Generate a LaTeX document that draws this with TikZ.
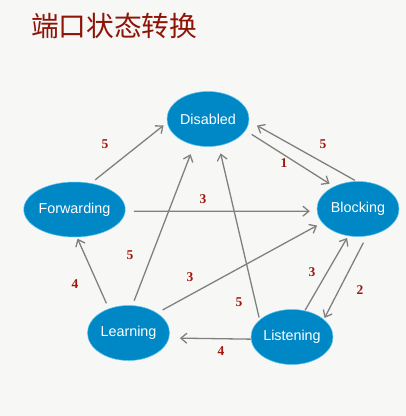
\documentclass[tikz,border=0pt]{standalone}
\usepackage{fontspec}
\setmainfont{Liberation Sans}
\newfontfamily\cjkfont{Noto Sans CJK SC}
\newfontfamily\numfont{Liberation Serif}
\usetikzlibrary{shapes.geometric,arrows.meta}
\definecolor{bgc}{HTML}{F7F7F5}
\definecolor{stateblue}{HTML}{0088C6}
\definecolor{stateedge}{HTML}{5CC4EC}
\definecolor{titlered}{HTML}{8E1408}
\definecolor{numred}{HTML}{A0160A}
\definecolor{arrowgray}{HTML}{808080}
\tikzset{
  state/.style={ellipse, fill=stateblue, draw=stateedge, line width=0.5bp,
    minimum width=82bp, minimum height=55bp, inner sep=0pt,
    text=white, font=\fontsize{14.4}{16}\selectfont},
  conn/.style={draw=arrowgray, line width=1.3bp,
    -{Straight Barb[length=6bp,width=10bp,line width=1.3bp]}},
  num/.style={text=numred, font=\numfont\fontsize{13.5}{15}\selectfont\bfseries, inner sep=0pt}
}
\begin{document}
\begin{tikzpicture}[x=1bp,y=-1bp]
\fill[bgc] (0,0) rectangle (406,416);
\useasboundingbox (0,0) rectangle (406,416);
\node[anchor=west, text=titlered, font=\cjkfont\fontsize{27.8}{30}\selectfont, inner sep=0pt] (title) at (31,26) {端口状态转换};

\node[state] (D) at (208,119) {Disabled};
\node[state] (B) at (358,209) {Blocking};
\node[state] (F) at (74.5,209.5) {Forwarding};
\node[state] (Le) at (128.5,333) {Learning};
\node[state] (Li) at (292,337) {Listening};

\draw[conn, shorten <=5.4bp, shorten >=4.5bp] (F.58.8) -- (D.185.1);
\draw[conn, shorten <=7.2bp, shorten >=5.1bp] (D.-17.6) -- (B.137.1);
\draw[conn, shorten <=2bp, shorten >=9bp] (B.93.8) -- (D.-3.4);
\draw[conn, shorten <=8.6bp, shorten >=7bp] (F.-2.9) -- (B.183.6);
\draw[conn, shorten <=5.8bp, shorten >=1.6bp] (Le.129) -- (F.-85.7);
\draw[conn, shorten <=5bp, shorten >=9.7bp] (Le.82.7) -- (D.242.8);
\draw[conn, shorten <=2.3bp, shorten >=7.8bp] (Li.152.6) -- (D.-68.2);
\draw[conn, shorten <=6.3bp, shorten >=5.8bp] (Le.35.9) -- (B.201.3);
\draw[conn, shorten <=0.5bp, shorten >=2.3bp] (Li.64.3) -- (B.250);
\draw[conn, shorten <=7.3bp, shorten >=1.6bp] (B.-72.2) -- (Li.29.5);
\draw[conn, shorten <=0bp, shorten >=10.8bp] (Li.183.2) -- (Le.-7.8);

\node[num] (n1) at (105,144) {5};
\node[num] (n2) at (284,163) {1};
\node[num] (n3) at (323,144) {5};
\node[num] (n4) at (203,199) {3};
\node[num] (n5) at (75,284) {4};
\node[num] (n6) at (130,255) {5};
\node[num] (n7) at (190,277.5) {3};
\node[num] (n8) at (312,272) {3};
\node[num] (n9) at (360,290) {2};
\node[num] (n10) at (239,302) {5};
\node[num] (n11) at (221,351) {4};
\end{tikzpicture}
\end{document}
